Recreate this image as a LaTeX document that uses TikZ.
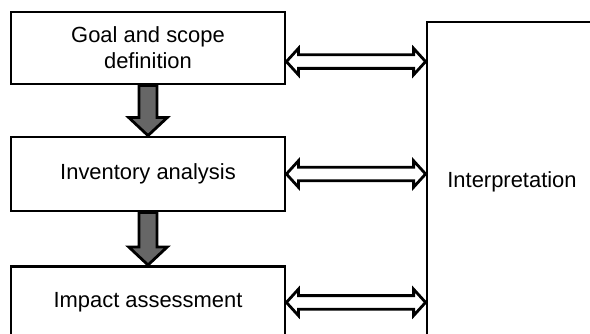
\documentclass[tikz,border=0pt]{standalone}
\usepackage{fontspec}
\setmainfont{Liberation Sans}
\usetikzlibrary{calc}

\tikzset{
  stage/.style={draw, line width=2pt, minimum width=6.85cm, inner sep=0pt, align=center},
  feedback/.style={draw, line width=2pt, fill=white},
  flowarrow/.style={draw, line width=2pt, fill=black!60}
}

% sizes of the two kinds of arrows
\def\hw{0.33}\def\sw{0.17}\def\hl{0.3}
\def\fhw{0.48}\def\fsw{0.225}\def\fhl{0.45}

% fat arrow from the bottom of #1 to the top of #2
\newcommand{\fatdown}[2]{%
  \draw [flowarrow] ($(#1.south)+(-\fsw,0)$) -- ($(#2.north)+(-\fsw,\fhl)$)
    -- ($(#2.north)+(-\fhw,\fhl)$) -- (#2.north) -- ($(#2.north)+(\fhw,\fhl)$)
    -- ($(#2.north)+(\fsw,\fhl)$) -- ($(#1.south)+(\fsw,0)$) -- cycle;%
}

% open double arrow from #1 to the interpretation box, shifted by #2
\newcommand{\twoway}[2]{%
  \coordinate (lt) at ($(#1.east)+(0,#2)$);
  \coordinate (rt) at (lt -| interp.west);
  \draw [feedback] (lt) -- ++(\hl,\hw) -- ++(0,{\sw-\hw}) -- ($(rt)+(-\hl,\sw)$)
    -- ++(0,{\hw-\sw}) -- (rt) -- ++(-\hl,-\hw) -- ++(0,{\hw-\sw})
    -- ($(lt)+(\hl,-\sw)$) -- ++(0,{\sw-\hw}) -- cycle;%
}

\begin{document}
\begin{tikzpicture}
  \clip (0,0) rectangle (14.75,8.35);
  {\fontsize{15.6}{18.6}\selectfont

  % Drawing stage goal
  \node [stage, minimum height=1.8cm] (goal) at (3.7,7.15) {Goal and scope\\definition};

  % Drawing stage inventory
  \node [stage, minimum height=1.85cm] (inv) at (3.7,4.0) {Inventory analysis};

  % Drawing stage impact
  \node [stage, minimum height=1.8cm, anchor=north] (impact) at (3.7,1.725) {Impact assessment};

  % Drawing box interpretation
  \node [draw, line width=2pt, minimum width=4.25cm, minimum height=8cm, inner sep=0pt] (interp) at (12.8,3.8) {Interpretation};

  % Drawing flow arrows
  \fatdown{goal}{inv}
  \fatdown{inv}{impact}

  % Drawing double arrows
  \twoway{goal}{-0.34}
  \twoway{inv}{0}
  \twoway{impact}{0}
  }
\end{tikzpicture}
\end{document}
